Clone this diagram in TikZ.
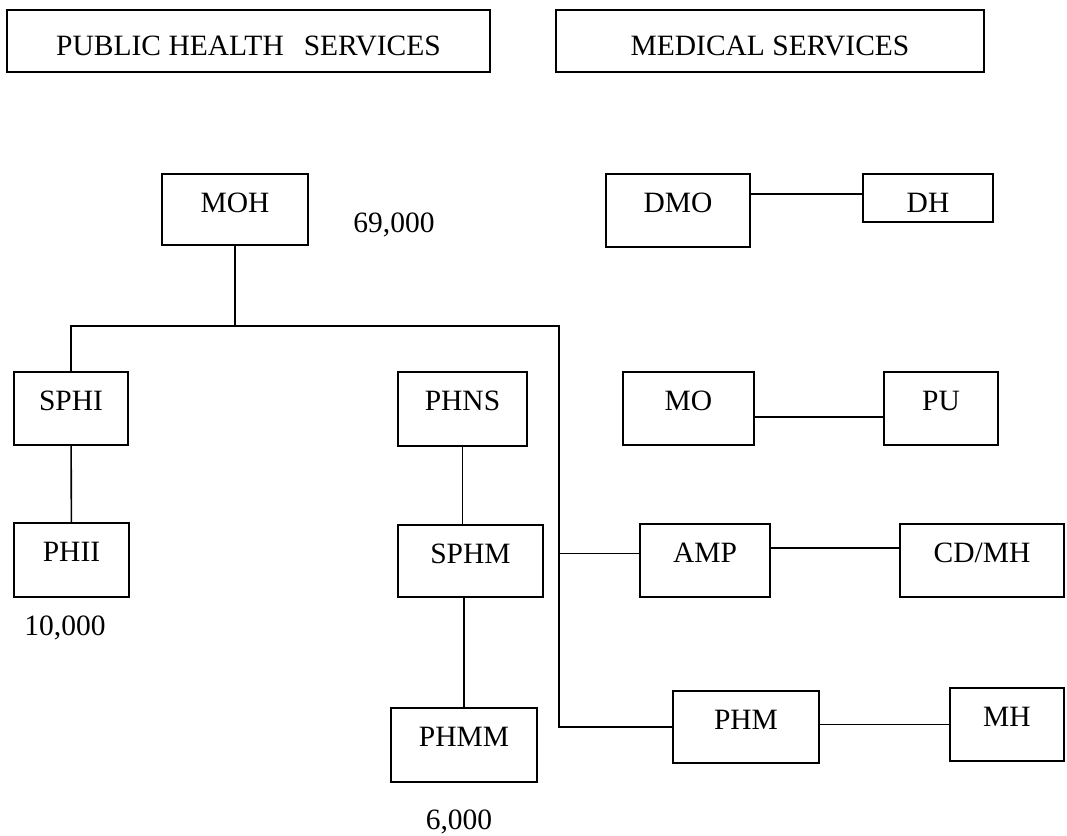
\documentclass[tikz,border=0pt]{standalone}
\usepackage{fontspec}
\setmainfont{Liberation Serif}
\tikzset{
  post/.style={draw, line width=1.6pt, inner sep=0pt, text height=38pt, text depth=35pt, font=\fontsize{29.5}{34}\selectfont},
  head/.style={post, text height=46pt, text depth=16.5pt},
  staff/.style={inner sep=0pt, font=\fontsize{29.5}{34}\selectfont},
  link/.style={line width=1.6pt}
}
\begin{document}
\begin{tikzpicture}[x=1pt,y=-1pt]
  \useasboundingbox (0,0) rectangle (1067,835);
  \node[head, minimum width=483pt] (phs) at (248.5,41) {PUBLIC HEALTH\hspace{20pt}SERVICES};
  \node[head, minimum width=428pt] (ms) at (770,41) {MEDICAL SERVICES};

  \node[post, minimum width=146pt, text depth=33pt] (moh) at (235,209.5) {MOH};
  \node[post, minimum width=114pt] (sphi) at (71,408.5) {SPHI};
  \node[post, minimum width=115pt, text depth=36pt] (phii) at (71.5,560) {PHII};
  \node[post, minimum width=129pt, text depth=36pt] (phns) at (462.5,409) {PHNS};
  \node[post, minimum width=145pt, text depth=34pt] (sphm) at (470.5,561) {SPHM};
  \node[post, minimum width=146pt, text depth=36pt] (phmm) at (464,745) {PHMM};

  \node[post, minimum width=144pt] (dmo) at (678,210.5) {DMO};
  \node[post, minimum width=130pt, text depth=10pt] (dh) at (928,198) {DH};
  \node[post, minimum width=131pt] (mo) at (688.5,408.5) {MO};
  \node[post, minimum width=114pt] (pu) at (941,408.5) {PU};
  \node[post, minimum width=130pt] (amp) at (705,560.5) {AMP};
  \node[post, minimum width=164pt] (cdmh) at (982,560.5) {CD/MH};
  \node[post, minimum width=146pt, text depth=34pt] (phm) at (746,727) {PHM};
  \node[post, minimum width=114pt] (mh) at (1007,724.5) {MH};

  \node[staff] (mohn) at (394,225) {69,000};
  \node[staff] (phiin) at (65,628) {10,000};
  \node[staff] (phmmn) at (459,822) {6,000};

  \coordinate (split) at (235,326);
  \coordinate (bend) at (559,326);
  \draw[link] (moh) -- (split);
  \draw[link] (sphi.north) |- (bend) -- (bend |- phm.west) -- (phm.west);
  \draw[link] ([yshift=7pt]amp.west) -- ([yshift=7pt]amp.west -| bend);
  \draw[link] (sphi) -- (phii);
  \draw[link] (phns.south) -- (phns.south |- sphm.north);
  \draw[link] (sphm.south -| phmm.north) -- (phmm.north);

  \draw[link] ([yshift=4pt]dh.west) -- ([yshift=4pt]dh.west -| dmo.east);
  \draw[link] ([yshift=-8.5pt]mo.east) -- ([yshift=-8.5pt]mo.east -| pu.west);
  \draw[link] ([yshift=12.5pt]amp.east) -- ([yshift=12.5pt]amp.east -| cdmh.west);
  \draw[link] (mh.west) -- (mh.west -| phm.east);
\end{tikzpicture}
\end{document}
